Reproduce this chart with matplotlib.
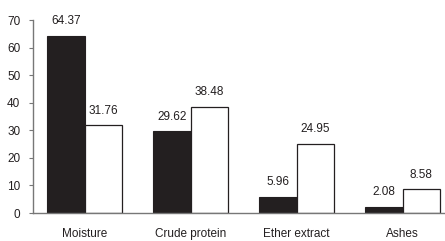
import numpy as np
import matplotlib.pyplot as plt
from matplotlib import font_manager

categories = ['Moisture', 'Crude protein', 'Ether extract', 'Ashes']
dark_vals = [64.37, 29.62, 5.96, 2.08]
light_vals = [31.76, 38.48, 24.95, 8.58]
yticks = [0, 10, 20, 30, 40, 50, 60, 70]

names = {f.name for f in font_manager.fontManager.ttflist}
fam = ['Liberation Sans Narrow', 'DejaVu Sans'] if 'Liberation Sans Narrow' in names else ['Liberation Sans', 'DejaVu Sans']
plt.rcParams['font.family'] = fam

fig = plt.figure(figsize=(4.45, 2.41), dpi=100)
ax = fig.add_axes([0.074, 0.116, 0.926, 0.801])

x = np.arange(len(categories))
w = 0.355
b1 = ax.bar(x - w/2, dark_vals, w, color='#231f20', edgecolor='#231f20', linewidth=0.8)
b2 = ax.bar(x + w/2, light_vals, w, color='white', edgecolor='#231f20', linewidth=0.9)

for rect, v in zip(list(b1) + list(b2), dark_vals + light_vals):
    ax.text(rect.get_x() + rect.get_width()/2, v + 3.2, f'{v:.2f}',
            ha='center', va='bottom', fontsize=8.5, color='#231f20')

ax.set_xlim(-0.49, 3.40)
ax.set_ylim(0, 70)
ax.set_yticks(yticks)
ax.set_xticks(x)
ax.set_xticklabels(categories)
ax.tick_params(axis='x', length=0, pad=11, labelsize=8.5, colors='#231f20')
ax.tick_params(axis='y', length=3, width=0.8, color='#777777', labelsize=8.5, labelcolor='#231f20', pad=6)
for s in ['top', 'right']:
    ax.spines[s].set_visible(False)
for s in ['left', 'bottom']:
    ax.spines[s].set_color('#777777')
    ax.spines[s].set_linewidth(1.0)

fig.savefig('out.png', dpi=100)
